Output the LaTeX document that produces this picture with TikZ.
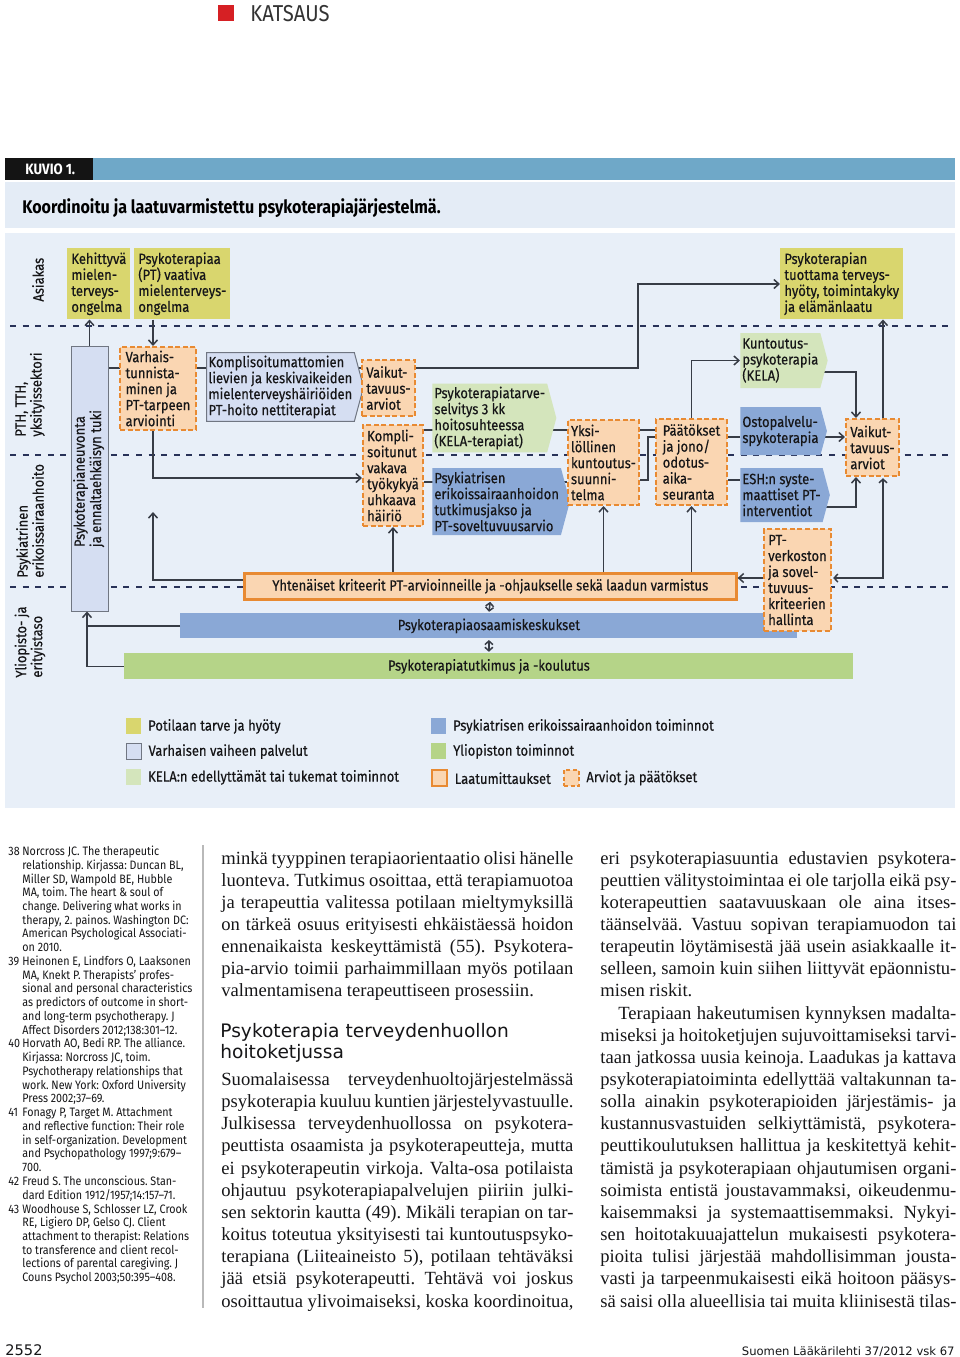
\documentclass[tikz,border=0pt]{standalone}
\usepackage{fontspec}
\setmainfont{Liberation Serif}
\newfontfamily\diagfont[FakeStretch=0.88]{Fira Sans}
\newfontfamily\boxfont[FakeStretch=0.88, FakeBold=0.35]{Fira Sans}
\newfontfamily\headfont{DejaVu Sans}
\usetikzlibrary{shapes.symbols, arrows.meta, positioning, calc}
\definecolor{panelblue}{RGB}{232,239,248}
\definecolor{titleband}{RGB}{228,236,246}
\definecolor{bandblue}{RGB}{111,168,200}
\definecolor{needyellow}{RGB}{217,214,110}
\definecolor{peach}{RGB}{250,214,178}
\definecolor{qorange}{RGB}{232,138,50}
\definecolor{lavender}{RGB}{213,222,242}
\definecolor{lavborder}{RGB}{112,118,130}
\definecolor{kelagreen}{RGB}{212,229,188}
\definecolor{espblue}{RGB}{138,168,214}
\definecolor{unigreen}{RGB}{181,212,136}
\definecolor{sepnavy}{RGB}{40,50,88}
\definecolor{linegray}{RGB}{55,60,70}
\definecolor{inkdark}{RGB}{22,22,24}
\definecolor{katred}{RGB}{214,32,36}
\pgfdeclarelayer{panel}
\pgfdeclarelayer{back}
\pgfsetlayers{panel,back,main}
\newcommand\jline[2]{\makebox[#1][s]{#2}}
\frenchspacing

\begin{document}
\begin{tikzpicture}[
    x=0.5pt, y=-0.5pt,
    lbl/.style={font=\boxfont\fontsize{7.4}{8}\selectfont, text=inkdark},
    need/.style={lbl, fill=needyellow, align=left, inner sep=2pt, anchor=north west},
    assess/.style={lbl, fill=peach, draw=qorange, line width=1pt, dash pattern=on 2.5pt off 1.3pt, align=left, inner sep=1.5pt, anchor=north west},
    early/.style={lbl, fill=lavender, draw=lavborder, line width=0.5pt},
    flow/.style={lbl, shape=signal, signal to=east, signal pointer angle=150, align=left, inner xsep=1pt, inner ysep=1.5pt, anchor=west},
    kelaflow/.style={flow, fill=kelagreen},
    eshflow/.style={flow, fill=espblue},
    quality/.style={lbl, fill=peach, draw=qorange, line width=1.3pt, anchor=north west, inner sep=0pt},
    bar/.style={lbl, anchor=north west, inner sep=0pt},
    rowlbl/.style={lbl, rotate=90, anchor=west, align=left, inner sep=0pt},
    arr/.style={-{Straight Barb[length=2.5pt, width=4.5pt]}, draw=linegray, line width=0.75pt},
    twoway/.style={{Straight Barb[length=1.8pt, width=4pt]}-{Straight Barb[length=1.8pt, width=4pt]}, draw=linegray, line width=0.75pt, shorten <=0.6pt, shorten >=0.6pt},
    link/.style={draw=linegray, line width=0.75pt},
    sep/.style={draw=sepnavy, line width=1.1pt, dash pattern=on 3pt off 3.3pt},
    swatch/.style={anchor=north west, minimum width=7.5pt, minimum height=8pt, inner sep=0pt},
    legtext/.style={lbl, inner sep=0pt},
    bodytext/.style={font=\fontsize{9.3}{11}\selectfont, text=inkdark, anchor=base west, inner sep=0pt},
    headtext/.style={font=\headfont\fontsize{9.3}{11}\selectfont, text=inkdark, anchor=base west, inner sep=0pt},
]
\useasboundingbox (0,0) rectangle (960,1357);

% page and figure panels
\begin{pgfonlayer}{panel}
\fill[white] (0,0) rectangle (960,1357);
\fill[black!92] (5,158) rectangle (93,180);
\fill[bandblue] (93,158) rectangle (955,180);
\fill[titleband] (5,182) rectangle (955,228);
\fill[panelblue] (5,233) rectangle (955,808);
\end{pgfonlayer}

% Header
\node[fill=katred, minimum size=8pt, inner sep=0pt, anchor=north west] (katbox) at (218,5) {};
\node[font=\diagfont\fontsize{11.5}{12}\selectfont, text=black!80, anchor=base west, inner sep=0pt] (katsaus) at (250,21) {KATSAUS};
\node[font=\diagfont\bfseries\fontsize{7.5}{9}\selectfont, text=white, anchor=base west, inner sep=0pt] (kuvio) at (25,174) {KUVIO 1.};
\node[font=\diagfont\bfseries\fontsize{9.15}{10}\selectfont, text=black, anchor=base west, inner sep=0pt] (title) at (22,213) {Koordinoitu ja laatuvarmistettu psykoterapiajärjestelmä.};

% Row labels
\node[rowlbl] (asiakas) at (38,302) {Asiakas};
\node[rowlbl] (pth) at (30,437) {PTH, TTH,\\yksityissektori};
\node[rowlbl] (esh) at (30,578) {Psykiatrinen\\erikoissairaanhoito};
\node[rowlbl] (ylio) at (30,678) {Yliopisto- ja\\erityistaso};

% Row separators
\begin{pgfonlayer}{back}
\draw[sep] (10,326) -- (952,326);
\draw[sep] (10,455) -- (952,455);
\draw[sep] (10,587) -- (952,587);
\end{pgfonlayer}

% Asiakas
\node[need, minimum width=30.5pt, minimum height=34.5pt] (kehittyva) at (67,248) {Kehittyvä\\mielen-\\terveys-\\ongelma};
\node[need, minimum width=46pt, minimum height=34.5pt] (ptvaativa) at (134,248) {Psykoterapiaa\\(PT) vaativa\\mielenterveys-\\ongelma};
\node[need, minimum width=60.5pt, minimum height=34.5pt] (hyoty) at (780,248) {Psykoterapian\\tuottama terveys-\\hyöty, toimintakyky\\ja elämänlaatu};

% PTH, TTH, yksityissektori
\node[early, minimum width=18.5pt, minimum height=132.5pt, inner sep=0pt] (neuvonta) at (89.5,478.5) {\rotatebox{90}{\begin{tabular}{@{}l@{}}Psykoterapianeuvonta\\ja ennaltaehkäisyn tuki\end{tabular}}};
\node[assess, minimum width=38pt, minimum height=41.5pt] (varhais) at (119,346) {Varhais-\\tunnista-\\minen ja\\PT-tarpeen\\arviointi};
\node[flow, fill=lavender, draw=lavborder, line width=0.5pt, minimum height=34pt] (kompliso) at (206,387) {Komplisoitumattomien\\lievien ja keskivaikeiden\\mielenterveyshäiriöiden\\PT-hoito nettiterapiat};
\node[assess, minimum width=26.5pt, minimum height=28pt] (vaikut1) at (361,359) {Vaikut-\\tavuus-\\arviot};
\node[assess, minimum width=30pt, minimum height=50.5pt] (kompli2) at (362,424) {Kompli-\\soitunut\\vakava\\työkykyä\\uhkaava\\häiriö};
\node[kelaflow, minimum height=33pt] (kelaselv) at (432,418) {Psykoterapiatarve-\\selvitys 3 kk\\hoitosuhteessa\\(KELA-terapiat)};
\node[eshflow, minimum height=33.5pt] (tutkjakso) at (432,501.5) {Psykiatrisen\\erikoissairaanhoidon\\tutkimusjakso ja\\PT-soveltuvuusarvio};
\node[assess, minimum width=35.5pt, minimum height=42.5pt] (yksi) at (567,419) {Yksi-\\löllinen\\kuntoutus-\\suunni-\\telma};
\node[assess, minimum width=35.5pt, minimum height=43pt] (paat) at (655,418) {Päätökset\\ja jono/\\odotus-\\aika-\\seuranta};
\node[kelaflow, minimum height=27.5pt] (kuntoutus) at (740,360.5) {Kuntoutus-\\psykoterapia\\(KELA)};
\node[eshflow, minimum height=24pt] (osto) at (740,431) {Ostopalvelu-\\spykoterapia};
\node[eshflow, minimum height=27pt] (eshinterv) at (740,495) {ESH:n syste-\\maattiset PT-\\interventiot};
\node[assess, minimum width=26.5pt, minimum height=28.5pt] (vaikut2) at (845,418) {Vaikut-\\tavuus-\\arviot};

% Quality and university level
\node[quality, minimum width=246pt, minimum height=13pt] (yhteinaiset) at (243,572) {Yhtenäiset kriteerit PT-arvioinneille ja -ohjaukselle sekä laadun varmistus};
\node[bar, fill=espblue, minimum width=308.5pt, minimum height=12.5pt] (osaamis) at (180,613) {Psykoterapiaosaamiskeskukset};
\node[bar, fill=unigreen, minimum width=364.5pt, minimum height=13pt] (tutkimus) at (124,653) {Psykoterapiatutkimus ja -koulutus};
\node[assess, minimum width=33.5pt, minimum height=51pt] (ptverk) at (763,528) {PT-\\verkoston\\ja sovel-\\tuvuus-\\kriteerien\\hallinta};

% Turning points
\coordinate (ymain) at (0,368);
\coordinate (xup) at (638,284);
\coordinate (x153) at (153,0);
\coordinate (y478) at (0,478);
\coordinate (y580) at (0,580);
\coordinate (tipup) at (153,512);
\coordinate (y430) at (0,430);
\coordinate (y482) at (0,482);
\coordinate (y437) at (0,437);
\coordinate (y480) at (0,480);
\coordinate (xbr) at (648,0);
\coordinate (y372) at (0,372);
\coordinate (x856) at (856,0);
\coordinate (x883) at (883,0);
\coordinate (y507) at (0,507);
\coordinate (y578) at (0,578);
\coordinate (x87) at (87,0);

% Connectors running behind boxes
\begin{pgfonlayer}{back}
\draw[link] (neuvonta.east |- ymain) -- (vaikut1.west |- ymain);
\draw[link] (kompli2.east |- y430) -- (yksi.west |- y430);
\draw[link] (kompli2.east |- y482) -- (yksi.west |- y482);
\draw[link] (yksi.east |- y430) -- (paat.west |- y430);
\draw[link] (yksi.east |- y480) -| (xbr |- y437) -- (paat.west |- y437);
\draw[arr] (kuntoutus.center |- y372) -| (x856 |- vaikut2.north);
\draw[arr] (osto.center |- y437) -- (vaikut2.west |- y437);
\draw[arr] (eshinterv.center |- y507) -| (x856 |- vaikut2.south);
\end{pgfonlayer}

% Connectors
\draw[arr] (neuvonta.north) -- (neuvonta.north |- kehittyva.south);
\draw[arr] (x153 |- ptvaativa.south) -- (x153 |- varhais.north);
\draw[arr] (vaikut1.east |- ymain) -| (xup) -- (hyoty.west |- xup);
\draw[arr] (x153 |- varhais.south) |- (kompli2.west |- y478);
\draw[arr] (yhteinaiset.west |- y580) -| (tipup);
\draw[arr] (kompli2.south |- yhteinaiset.north) -- (kompli2.south);
\draw[arr] (yksi.south |- yhteinaiset.north) -- (yksi.south);
\draw[arr] (paat.south |- yhteinaiset.north) -- (paat.south);
\draw[arr] (paat.north) |- (kuntoutus.west);
\draw[link] (paat.east |- y437) -- (osto.west |- y437);
\draw[link] (paat.east |- y480) -- (eshinterv.west |- y480);
\draw[arr] (x883 |- vaikut2.north) -- (x883 |- hyoty.south);
\draw[twoway] (ptverk.east |- y578) -| (x883 |- vaikut2.south);
\draw[arr] (ptverk.west |- y578) -- (yhteinaiset.east |- y578);
\draw[twoway] (yhteinaiset.south) -- (osaamis.north);
\draw[twoway] (osaamis.south) -- (tutkimus.north);
\draw[link] (osaamis.west) -- (x87 |- osaamis.west);
\draw[arr] (tutkimus.west) -| (x87 |- neuvonta.south);

% Legend
\node[swatch, fill=needyellow] (lgneed) at (126,718) {};
\node[legtext, right=3pt of lgneed] (lgneedt) {Potilaan tarve ja hyöty};
\node[swatch, fill=lavender, draw=lavborder, line width=0.6pt] (lgearly) at (126,743) {};
\node[legtext, right=3pt of lgearly] (lgearlyt) {Varhaisen vaiheen palvelut};
\node[swatch, fill=kelagreen] (lgkela) at (126,769) {};
\node[legtext, right=3pt of lgkela] (lgkelat) {KELA:n edellyttämät tai tukemat toiminnot};
\node[swatch, fill=espblue] (lgesh) at (431,718) {};
\node[legtext, right=3pt of lgesh] (lgesht) {Psykiatrisen erikoissairaanhoidon toiminnot};
\node[swatch, fill=unigreen] (lguni) at (431,743) {};
\node[legtext, right=3pt of lguni] (lgunit) {Yliopiston toiminnot};
\node[swatch, fill=peach, draw=qorange, line width=1.2pt] (lgqual) at (431,769) {};
\node[legtext, right=3pt of lgqual] (lgqualt) {Laatumittaukset};
\node[swatch, fill=peach, draw=qorange, line width=1pt, dash pattern=on 2pt off 1.3pt] (lgassess) at (563,769) {};
\node[legtext, right=3pt of lgassess] (lgassesst) {Arviot ja päätökset};

% Reference list
\node[font=\diagfont\fontsize{6.1}{6.87}\selectfont, text=inkdark, anchor=north west, inner sep=0pt] (refs) at (8,845.5) {%
\begin{tabular}{@{}p{7pt}@{}l@{}}
38 & Norcross JC. The therapeutic\\
 & relationship. Kirjassa: Duncan BL,\\
 & Miller SD, Wampold BE, Hubble\\
 & MA, toim. The heart \& soul of\\
 & change. Delivering what works in\\
 & therapy, 2. painos. Washington DC:\\
 & American Psychological Associati-\\
 & on 2010.\\
39 & Heinonen E, Lindfors O, Laaksonen\\
 & MA, Knekt P. Therapists’ profes-\\
 & sional and personal characteristics\\
 & as predictors of outcome in short-\\
 & and long-term psychotherapy. J\\
 & Affect Disorders 2012;138:301–12.\\
40 & Horvath AO, Bedi RP. The alliance.\\
 & Kirjassa: Norcross JC, toim.\\
 & Psychotherapy relationships that\\
 & work. New York: Oxford University\\
 & Press 2002;37–69.\\
41 & Fonagy P, Target M. Attachment\\
 & and reflective function: Their role\\
 & in self-organization. Development\\
 & and Psychopathology 1997;9:679–\\
 & 700.\\
42 & Freud S. The unconscious. Stan-\\
 & dard Edition 1912/1957;14:157–71.\\
43 & Woodhouse S, Schlosser LZ, Crook\\
 & RE, Ligiero DP, Gelso CJ. Client\\
 & attachment to therapist: Relations\\
 & to transference and client recol-\\
 & lections of parental caregiving. J\\
 & Couns Psychol 2003;50:395–408.
\end{tabular}};
\draw[gray!55, line width=0.7pt] (203,845) -- (203,1308);

% Middle column
\foreach \txt [count=\i] in {
  {minkä tyyppinen terapiaorientaatio olisi hänelle},
  {luonteva. Tutkimus osoittaa, että terapiamuotoa},
  {ja terapeuttia valitessa potilaan mieltymyksillä},
  {on tärkeä osuus erityisesti ehkäistäessä hoidon},
  {ennenaikaista keskeyttämistä (55). Psykotera-},
  {pia-arvio toimii parhaimmillaan myös potilaan}}
  \node[bodytext] (mida\i) at (221,{864+(\i-1)*22.15}) {\jline{176pt}{\txt}};
\node[bodytext] (mida7) at (221,996.9) {valmentamisena terapeuttiseen prosessiin.};
\node[headtext] (heading1) at (220,1037) {Psykoterapia terveydenhuollon};
\node[headtext] (heading2) at (220,1058) {hoitoketjussa};
\foreach \txt [count=\i] in {
  {Suomalaisessa terveydenhuoltojärjestelmässä},
  {psykoterapia kuuluu kuntien järjestelyvastuulle.},
  {Julkisessa terveydenhuollossa on psykotera-},
  {peuttista osaamista ja psykoterapeutteja, mutta},
  {ei psykoterapeutin virkoja. Valta-osa potilaista},
  {ohjautuu psykoterapiapalvelujen piiriin julki-},
  {sen sektorin kautta (49). Mikäli terapian on tar-},
  {koitus toteutua yksityisesti tai kuntoutuspsyko-},
  {terapiana (Liiteaineisto 5), potilaan tehtäväksi},
  {jää etsiä psykoterapeutti. Tehtävä voi joskus},
  {osoittautua ylivoimaiseksi, koska koordinoitua,}}
  \node[bodytext] (midb\i) at (221,{1085.5+(\i-1)*22.15}) {\jline{176pt}{\txt}};

% Right column
\foreach \txt [count=\i] in {
  {eri psykoterapiasuuntia edustavien psykotera-},
  {peuttien välitystoimintaa ei ole tarjolla eikä psy-},
  {koterapeuttien saatavuuskaan ole aina itses-},
  {täänselvää. Vastuu sopivan terapiamuodon tai},
  {terapeutin löytämisestä jää usein asiakkaalle it-},
  {selleen, samoin kuin siihen liittyvät epäonnistu-}}
  \node[bodytext] (righta\i) at (600,{864+(\i-1)*22.15}) {\jline{178pt}{\txt}};
\node[bodytext] (righta7) at (600,996.9) {misen riskit.};
\node[bodytext] (rightb1) at (618,1019.05) {\jline{169pt}{Terapiaan hakeutumisen kynnyksen madalta-}};
\foreach \txt [count=\i from 2] in {
  {miseksi ja hoitoketjujen sujuvoittamiseksi tarvi-},
  {taan jatkossa uusia keinoja. Laadukas ja kattava},
  {psykoterapiatoiminta edellyttää valtakunnan ta-},
  {solla ainakin psykoterapioiden järjestämis- ja},
  {kustannusvastuiden selkiyttämistä, psykotera-},
  {peuttikoulutuksen hallittua ja keskitettyä kehit-},
  {tämistä ja psykoterapiaan ohjautumisen organi-},
  {soimista entistä joustavammaksi, oikeudenmu-},
  {kaisemmaksi ja systemaattisemmaksi. Nykyi-},
  {sen hoitotakuuajattelun mukaisesti psykotera-},
  {pioita tulisi järjestää mahdollisimman jousta-},
  {vasti ja tarpeenmukaisesti eikä hoitoon pääsys-},
  {sä saisi olla alueellisia tai muita kliinisestä tilas-}}
  \node[bodytext] (rightb\i) at (600,{1019.05+(\i-1)*22.15}) {\jline{178pt}{\txt}};

% Footer
\node[font=\headfont\fontsize{7.3}{9}\selectfont, text=inkdark, anchor=base west, inner sep=0pt] (sivu) at (5,1355) {2552};
\node[font=\headfont\fontsize{5.8}{7}\selectfont, text=inkdark, anchor=base east, inner sep=0pt] (lehti) at (955,1355) {Suomen Lääkärilehti 37/2012 vsk 67};
\end{tikzpicture}
\end{document}
